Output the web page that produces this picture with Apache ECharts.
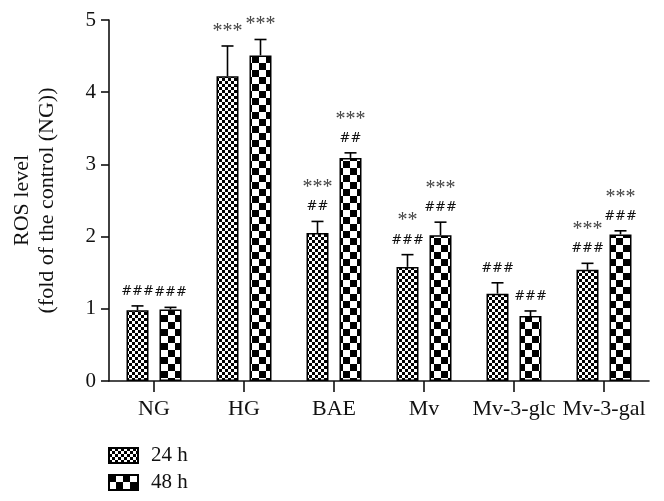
<!DOCTYPE html>
<html><head><meta charset="utf-8">
<script src="https://cdn.jsdelivr.net/npm/echarts@6/dist/echarts.min.js"></script>
<style>html,body{margin:0;padding:0;background:#fff}#c{width:664px;height:501px}</style>
</head><body><div id="c"></div>
<script>
const categories = ['NG', 'HG', 'BAE', 'Mv', 'Mv-3-glc', 'Mv-3-gal'];
const seriesNames = ['24 h', '48 h'];
const mean24 = [0.98, 4.22, 2.05, 1.58, 1.21, 1.54];
const err24  = [0.06, 0.42, 0.16, 0.17, 0.15, 0.09];
const mean48 = [0.99, 4.51, 3.09, 2.02, 0.90, 2.03];
const err48  = [0.03, 0.22, 0.07, 0.18, 0.07, 0.05];
const sig24 = ['###', '***', '***\n##', '**\n###', '###', '***\n###'];
const sig48 = ['###', '***', '***\n##', '***\n###', '###', '***\n###'];
const yTicks = [0, 1, 2, 3, 4, 5];

const SERIF = '"Liberation Serif", "DejaVu Serif", serif';

function makePattern(cell) {
  const c = document.createElement('canvas');
  c.width = c.height = cell * 2;
  const ctx = c.getContext('2d');
  ctx.fillStyle = '#fff';
  ctx.fillRect(0, 0, cell * 2, cell * 2);
  ctx.fillStyle = '#000';
  ctx.fillRect(0, 0, cell, cell);
  ctx.fillRect(cell, cell, cell, cell);
  return c;
}
const pat24 = makePattern(3);
const pat48 = makePattern(7);

const BAR_W = 22;
const OFFSET = 16.5;

function richText(s) {
  return s.split('\n').map(line => (line[0] === '*' ? '{s|' + line + '}' : '{h|' + line + '}')).join('\n');
}

function errSeries(means, errs, sigs, dir) {
  return {
    type: 'custom',
    z: 5,
    silent: true,
    data: means.map((m, i) => [i, m, m + errs[i]]),
    renderItem: function (params, api) {
      const i = api.value(0);
      const p0 = api.coord([i, api.value(1)]);
      const p1 = api.coord([i, api.value(2)]);
      const x = p0[0] + dir * OFFSET;
      const st = { stroke: '#000', lineWidth: 1.6 };
      return {
        type: 'group',
        children: [
          { type: 'line', shape: { x1: x, y1: p0[1], x2: x, y2: p1[1] }, style: st },
          { type: 'line', shape: { x1: x - 6, y1: p1[1], x2: x + 6, y2: p1[1] }, style: st },
          {
            type: 'text',
            style: {
              x: x, y: p1[1] - 5,
              text: richText(sigs[i]),
              align: 'center', verticalAlign: 'bottom',
              rich: {
                s: { font: '20px ' + SERIF, fill: '#444', lineHeight: 19, height: 19, verticalAlign: 'middle' },
                h: { font: '13px "DejaVu Serif", serif', fill: '#111', lineHeight: 19, height: 19, verticalAlign: 'middle' }
              }
            }
          }
        ]
      };
    }
  };
}

const chart = echarts.init(document.getElementById('c'), null, { renderer: 'canvas' });
chart.setOption({
  animation: false,
  backgroundColor: '#fff',
  grid: { left: 109, right: 15, top: 20, bottom: 120, containLabel: false },
  legend: {
    orient: 'vertical',
    left: 108, top: 445, height: 56,
    padding: 0,
    itemWidth: 29, itemHeight: 15, itemGap: 6,
    icon: 'rect',
    data: seriesNames,
    textStyle: { fontFamily: SERIF, fontSize: 21, color: '#111', lineHeight: 15, padding: [0, 0, 0, 8] }
  },
  xAxis: {
    type: 'category',
    data: categories,
    axisLine: { lineStyle: { color: '#111', width: 1.6 } },
    axisTick: { show: true, alignWithLabel: true, interval: 0, length: 11, lineStyle: { color: '#111', width: 1.6 } },
    axisLabel: { interval: 0, fontFamily: SERIF, fontSize: 22, color: '#111', margin: 17 }
  },
  yAxis: {
    type: 'value',
    min: yTicks[0], max: yTicks[yTicks.length - 1], interval: 1,
    name: 'ROS level\n(fold of the control (NG))',
    nameLocation: 'middle',
    nameGap: 49,
    nameTextStyle: { fontFamily: SERIF, fontSize: 22, color: '#111', lineHeight: 25 },
    axisLine: { show: true, lineStyle: { color: '#111', width: 1.6 } },
    axisTick: { show: true, length: 8, lineStyle: { color: '#111', width: 1.6 } },
    splitLine: { show: false },
    axisLabel: { fontFamily: SERIF, fontSize: 21, color: '#111', margin: 13 }
  },
  series: [
    {
      name: seriesNames[0], type: 'bar', data: mean24, barWidth: BAR_W, barGap: '50%',
      itemStyle: { color: { image: pat24, repeat: 'repeat' }, borderColor: '#000', borderWidth: 1.5 }
    },
    {
      name: seriesNames[1], type: 'bar', data: mean48, barWidth: BAR_W, barGap: '50%',
      itemStyle: { color: { image: pat48, repeat: 'repeat' }, borderColor: '#000', borderWidth: 1.5 }
    },
    errSeries(mean24, err24, sig24, -1),
    errSeries(mean48, err48, sig48, 1)
  ]
});
</script></body></html>
